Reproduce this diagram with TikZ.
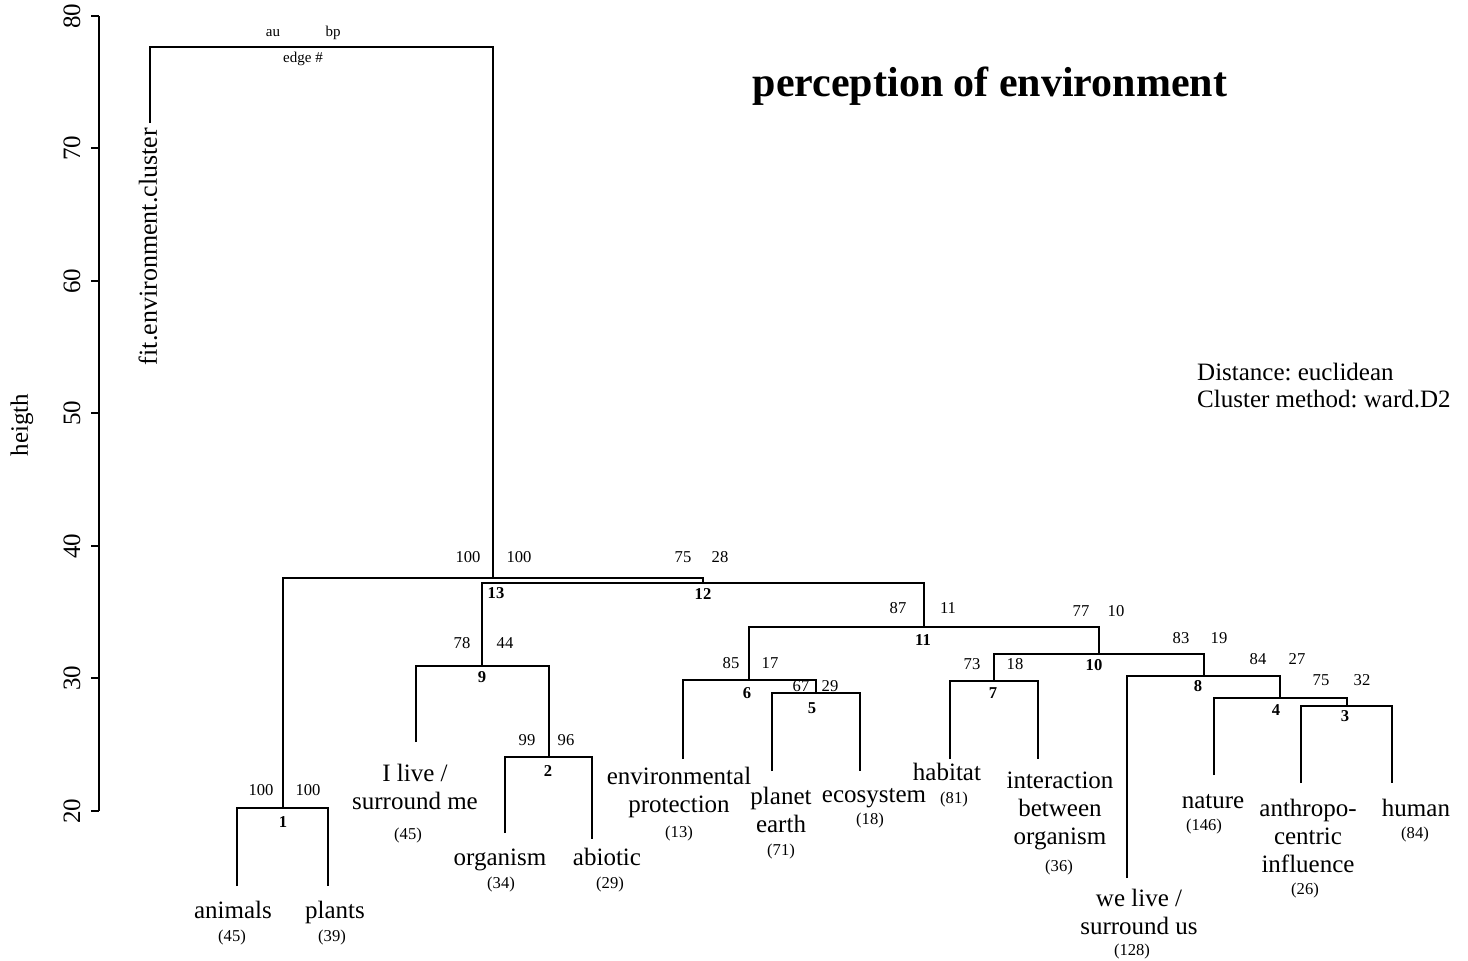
\documentclass[tikz,border=0pt]{standalone}
\usepackage{fontspec}
\setmainfont{Liberation Serif}
\begin{document}
\frenchspacing
\begin{tikzpicture}[x=0.5pt,y=-0.5pt,line width=1.2pt,
  leaf/.style={font=\fontsize{12.5}{14}\selectfont,align=center,inner sep=0pt},
  bleaf/.style={leaf,anchor=base},
  cnt/.style={font=\fontsize{8.3}{10}\selectfont,inner sep=0pt},
  pv/.style={font=\fontsize{8.3}{10}\selectfont,inner sep=0pt},
  edgeno/.style={font=\bfseries\fontsize{8.3}{10}\selectfont,inner sep=0pt},
  legend/.style={font=\fontsize{7.5}{9}\selectfont,inner sep=0pt},
  axlab/.style={font=\fontsize{12.5}{14}\selectfont,inner sep=0pt,rotate=90},
  branch/.style={draw=black,line width=1.2pt}]
\useasboundingbox (0,0) rectangle (1468,960);
% axis
\draw[line width=1.1pt] (99,16) coordinate (ax80) -- (99,811) coordinate (ax20);
\foreach \v/\yy in {80/16,70/148,60/281,50/413,40/546,30/678,20/811}{
  \draw[line width=1.1pt] (91,\yy) -- (99,\yy);
  \node[axlab] (tick\v) at (72,\yy) {\v};
}
\node[axlab] (ylab) at (22,425) {heigth};
% leaf ends
\coordinate (fit) at (150,123);
\coordinate (animals) at (237,886);
\coordinate (plants) at (328,886);
\coordinate (ilive) at (416,742);
\coordinate (organism) at (505,833);
\coordinate (abiotic) at (592,839);
\coordinate (envprot) at (683,759);
\coordinate (planet) at (772,771);
\coordinate (ecosys) at (860,771);
\coordinate (habitat) at (950,759);
\coordinate (interact) at (1038,759);
\coordinate (welive) at (1127,878);
\coordinate (nature) at (1214,775);
\coordinate (anthro) at (1301,783);
\coordinate (human) at (1392,783);
% internal nodes
\coordinate (n1) at (283,808);
\coordinate (n2) at (549,757);
\coordinate (n9) at (482,666);
\coordinate (n5) at (816,693);
\coordinate (n6) at (749,680);
\coordinate (n7) at (994,681);
\coordinate (n3) at (1347,706);
\coordinate (n4) at (1280,698);
\coordinate (n8) at (1204,676);
\coordinate (n10) at (1099,654);
\coordinate (n11) at (924,627);
\coordinate (n12) at (703,583);
\coordinate (n13) at (493,578);
\coordinate (root) at (322,47);
% branches
\draw[branch] (animals) |- (n1) -| (plants);
\draw[branch] (organism) |- (n2) -| (abiotic);
\draw[branch] (ilive) |- (n9) -| (n2);
\draw[branch] (planet) |- (n5) -| (ecosys);
\draw[branch] (envprot) |- (n6) -| (n5);
\draw[branch] (habitat) |- (n7) -| (interact);
\draw[branch] (anthro) |- (n3) -| (human);
\draw[branch] (nature) |- (n4) -| (n3);
\draw[branch] (welive) |- (n8) -| (n4);
\draw[branch] (n7) |- (n10) -| (n8);
\draw[branch] (n6) |- (n11) -| (n10);
\draw[branch] (n9) |- (n12) -| (n11);
\draw[branch] (n1) |- (n13) -| (n12);
\draw[branch] (fit) |- (root) -| (n13);
% au / bp / edge labels
\node[legend] (lau) at (273,33) {au};
\node[legend] (lbp) at (333,33) {bp};
\node[legend] (ledge) at (303,59) {edge \#};
\node[pv] (au13) at (468,557) {100}; \node[pv] (bp13) at (519,557) {100}; \node[edgeno] (e13) at (496,593) {13};
\node[pv] (au12) at (683,557) {75};  \node[pv] (bp12) at (720,557) {28};  \node[edgeno] (e12) at (703,594) {12};
\node[pv] (au9) at (462,643) {78};   \node[pv] (bp9) at (505,643) {44};   \node[edgeno] (e9) at (482,677) {9};
\node[pv] (au2) at (527,740) {99};   \node[pv] (bp2) at (566,740) {96};   \node[edgeno] (e2) at (548,771) {2};
\node[pv] (au1) at (261,790) {100};  \node[pv] (bp1) at (308,790) {100};  \node[edgeno] (e1) at (283,822) {1};
\node[pv] (au11) at (898,608) {87};  \node[pv] (bp11) at (948,608) {11};  \node[edgeno] (e11) at (923,640) {11};
\node[pv] (au6) at (731,663) {85};   \node[pv] (bp6) at (770,663) {17};   \node[edgeno] (e6) at (747,693) {6};
\node[pv] (au5) at (801,686) {67};   \node[pv] (bp5) at (830,686) {29};   \node[edgeno] (e5) at (812,708) {5};
\node[pv] (au10) at (1081,611) {77}; \node[pv] (bp10) at (1116,611) {10}; \node[edgeno] (e10) at (1094,665) {10};
\node[pv] (au7) at (972,664) {73};   \node[pv] (bp7) at (1015,664) {18};  \node[edgeno] (e7) at (993,693) {7};
\node[pv] (au8) at (1181,638) {83};  \node[pv] (bp8) at (1219,638) {19};  \node[edgeno] (e8) at (1198,686) {8};
\node[pv] (au4) at (1258,659) {84};  \node[pv] (bp4) at (1297,659) {27};  \node[edgeno] (e4) at (1276,710) {4};
\node[pv] (au3) at (1321,680) {75};  \node[pv] (bp3) at (1362,680) {32};  \node[edgeno] (e3) at (1345,716) {3};
% leaf labels
\node[leaf,rotate=90,anchor=east,font=\fontsize{13}{15}\selectfont] (tfit) at (148,127) {fit.environment.cluster};
\node[bleaf] (tanimals) at (233,918) {animals};
\node[bleaf] (tplants) at (335,918) {plants};
\node[leaf] (tilive) at (415,787) {I live /\\surround me};
\node[bleaf] (torganism) at (500,865) {organism};
\node[bleaf] (tabiotic) at (607,865) {abiotic};
\node[leaf] (tenvprot) at (679,792) {environmental\\protection};
\node[leaf] (tplanet) at (781,810) {planet\\earth};
\node[bleaf] (tecosys) at (874,802) {ecosystem};
\node[bleaf] (thabitat) at (947,780) {habitat};
\node[leaf] (tinteract) at (1060,811) {interaction\\between\\organism};
\node[leaf] (twelive) at (1139,912) {we live /\\surround us};
\node[bleaf] (tnature) at (1213,808) {nature};
\node[leaf] (tanthro) at (1308,836) {anthropo-\\centric\\influence};
\node[bleaf] (thuman) at (1416,816) {human};
% counts
\node[cnt] (c1) at (232,937) {(45)};
\node[cnt] (c2) at (332,937) {(39)};
\node[cnt] (c3) at (408,835) {(45)};
\node[cnt] (c4) at (501,884) {(34)};
\node[cnt] (c5) at (610,884) {(29)};
\node[cnt] (c6) at (679,833) {(13)};
\node[cnt] (c7) at (781,851) {(71)};
\node[cnt] (c8) at (870,820) {(18)};
\node[cnt] (c9) at (954,799) {(81)};
\node[cnt] (c10) at (1059,867) {(36)};
\node[cnt] (c11) at (1132,951) {(128)};
\node[cnt] (c12) at (1204,826) {(146)};
\node[cnt] (c13) at (1305,890) {(26)};
\node[cnt] (c14) at (1415,834) {(84)};
% title and info
\node[inner sep=0pt,font=\bfseries\fontsize{21}{24}\selectfont] (title) at (990,86) {perception of environment};
\node[leaf,anchor=west] (dist) at (1196,372) {Distance: euclidean};
\node[leaf,anchor=west] (meth) at (1196,399) {Cluster method: ward.D2};
\end{tikzpicture}
\end{document}
